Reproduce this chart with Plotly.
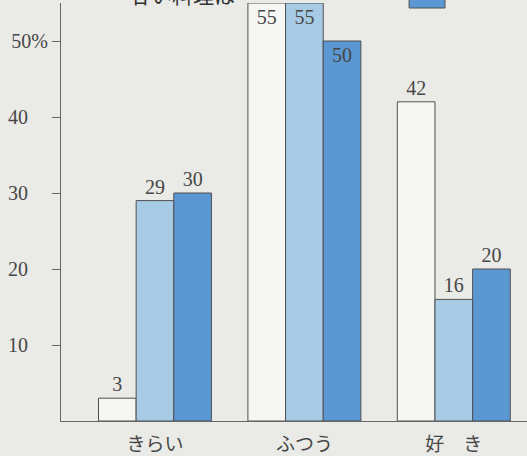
import plotly.graph_objects as go

categories = ["きらい", "ふつう", "好　き"]
series_names = ["グループ1", "グループ2", "グループ3"]
values_a = [3, 55, 42]
values_b = [29, 55, 16]
values_c = [30, 50, 20]
tick_vals = [10, 20, 30, 40, 50]
tick_text = ["10\u2003", "20\u2003", "30\u2003", "40\u2003", "50%"]
title_text = "甘い料理は"

fills = ["#f6f6f3", "#a7cbe5", "#5a97d3"]
edge = "#505050"
txt = "#474747"
bg = "#eaeae6"
serif = "Liberation Serif, DejaVu Serif, serif"
cjk = "Noto Sans CJK JP, Noto Sans, sans-serif"

x_idx = list(range(len(categories)))

fig = go.Figure()
for name, vals, col in zip(series_names, [values_a, values_b, values_c], fills):
    pos = ["inside" if v >= 50 else "outside" for v in vals]
    fig.add_trace(go.Bar(
        x=x_idx, y=vals, name=name,
        marker=dict(color=col, line=dict(color=edge, width=1)),
        text=[str(v) for v in vals], textposition=pos,
        insidetextanchor="end",
        textfont=dict(family=serif, size=20, color=txt),
        constraintext="none", cliponaxis=False,
    ))

fig.update_layout(
    width=527, height=456,
    margin=dict(l=61, r=0, t=3, b=35),
    paper_bgcolor=bg, plot_bgcolor=bg,
    barmode="group", bargap=0.244, bargroupgap=0,
    showlegend=False,
    xaxis=dict(
        range=[-0.629, 2.49], tickvals=x_idx, ticktext=categories,
        showline=True, linecolor="#666", linewidth=1.2,
        ticks="", showgrid=False, zeroline=False,
        tickfont=dict(family=cjk, size=19, color=txt),
        ticklabelstandoff=6,
    ),
    yaxis=dict(
        range=[0, 55], tickvals=tick_vals, ticktext=tick_text,
        showline=True, linecolor="#666", linewidth=1.2,
        ticks="outside", ticklen=8, tickcolor="#666", tickwidth=1.2,
        showgrid=False, zeroline=False,
        tickfont=dict(family=serif, size=20, color=txt),
    ),
    annotations=[dict(
        text=title_text, xref="paper", yref="paper",
        x=0.144, y=0.981, xanchor="left", yanchor="bottom",
        showarrow=False, font=dict(family=cjk, size=21, color="#333"),
    )],
    shapes=[dict(
        type="rect", xref="paper", yref="paper",
        x0=0.747, x1=0.824, y0=0.988, y1=1.1,
        fillcolor=fills[2], line=dict(color=edge, width=1),
    )],
)

fig.write_html(
    "out.html",
    config={"displayModeBar": False},
    post_script="document.body.style.margin='0';document.body.style.background='%s';" % bg,
)
